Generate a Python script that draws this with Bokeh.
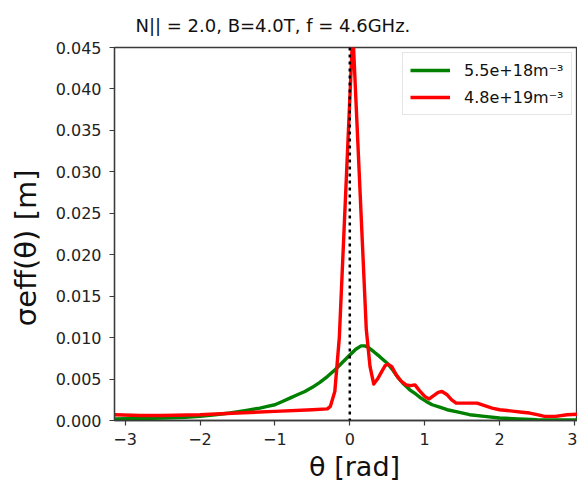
import math
from bokeh.plotting import figure
from bokeh.models import Range1d, FixedTicker, NumeralTickFormatter, Span, Legend, LegendItem
from bokeh.embed import file_html
from bokeh.resources import INLINE

# ---- data ----
theta_green = [-3.14, -2.8, -2.5, -2.2, -2.0, -1.8, -1.6, -1.4, -1.2, -1.1, -1.0, -0.9,
               -0.8, -0.7, -0.6, -0.5, -0.4, -0.3, -0.2, -0.1, 0.0, 0.08, 0.15, 0.2,
               0.25, 0.32, 0.4, 0.5, 0.58, 0.65, 0.72, 0.8, 0.88, 0.95, 1.02, 1.1, 1.2,
               1.3, 1.45, 1.6, 1.8, 2.0, 2.25, 2.5, 2.8, 3.14]
sigma_green = [0.0002, 0.00025, 0.0003, 0.0004, 0.0005, 0.0007, 0.0009, 0.0012, 0.0015,
               0.0017, 0.0019, 0.0023, 0.0027, 0.0031, 0.0035, 0.0040, 0.0046, 0.0053,
               0.0061, 0.0070, 0.0079, 0.0086, 0.0090, 0.0090, 0.0088, 0.0083, 0.0077,
               0.0069, 0.0060, 0.0051, 0.0044, 0.0037, 0.0032, 0.0027, 0.0023, 0.0019,
               0.0016, 0.0013, 0.0010, 0.0007, 0.0005, 0.0003, 0.0002, 0.0001, 0.00007,
               0.00005]

theta_red = [-3.14, -2.8, -2.5, -2.0, -1.5, -1.0, -0.5, -0.3, -0.26, -0.2, -0.14, 0.04,
             0.22, 0.27, 0.32, 0.37, 0.42, 0.47, 0.51, 0.56, 0.62, 0.68, 0.75, 0.81,
             0.87, 0.93, 1.0, 1.06, 1.12, 1.18, 1.23, 1.3, 1.36, 1.42, 1.5, 1.6, 1.7,
             1.8, 1.9, 2.0, 2.1, 2.2, 2.3, 2.4, 2.5, 2.6, 2.75, 2.9, 3.14]
sigma_red = [0.0007, 0.0006, 0.0006, 0.0007, 0.0009, 0.0011, 0.0013, 0.0014, 0.0017,
             0.0035, 0.0100, 0.047, 0.011, 0.0065, 0.0044, 0.0050, 0.0058, 0.0066,
             0.0068, 0.0065, 0.0055, 0.0048, 0.0043, 0.0042, 0.0043, 0.0036, 0.0029,
             0.0026, 0.0030, 0.0034, 0.0035, 0.0031, 0.0025, 0.0021, 0.0021, 0.0021,
             0.0021, 0.0018, 0.0015, 0.0013, 0.0012, 0.0011, 0.0010, 0.0009, 0.0007,
             0.0005, 0.0005, 0.0007, 0.0008]

series_labels = ["5.5e+18m\u207b\u00b3", "4.8e+19m\u207b\u00b3"]
x_ticks = [-3, -2, -1, 0, 1, 2, 3]
x_tick_labels = ["\u22123", "\u22122", "\u22121", "0", "1", "2", "3"]
y_ticks = [0.0, 0.005, 0.010, 0.015, 0.020, 0.025, 0.030, 0.035, 0.040, 0.045]
vline_theta = 0.0
title_text = "N|| = 2.0, B=4.0T, f = 4.6GHz."
x_label = "\u00a0\u00a0\u03b8 [rad]"
y_label = "\u03c3eff(\u03b8) [m]\u00a0\u00a0\u00a0"

FONT = "DejaVu Sans"
AX = "#3a3a3a"
TXT = "#111111"

p = figure(width=577, height=488,
           x_range=Range1d(-math.pi, 3.04), y_range=Range1d(0, 0.045),
           output_backend="svg", toolbar_location=None,
           min_border_left=114, min_border_right=0, min_border_top=44, min_border_bottom=68)

p.title.text = title_text
p.title.align = "left"
p.title.offset = 21
p.title.standoff = 24
p.title.text_font = FONT
p.title.text_font_size = "18px"
p.title.text_font_style = "normal"
p.title.text_color = TXT

p.xgrid.visible = False
p.ygrid.visible = False
p.outline_line_color = AX
p.outline_line_width = 1.3
p.background_fill_color = "white"
p.border_fill_color = "white"

for ax in (p.xaxis[0], p.yaxis[0]):
    ax.axis_line_color = AX
    ax.axis_line_width = 1.3
    ax.major_tick_line_color = AX
    ax.major_tick_line_width = 1.2
    ax.major_tick_in = 0
    ax.major_tick_out = 5
    ax.minor_tick_line_color = None
    ax.major_label_text_font = FONT
    ax.major_label_text_font_size = "16px"
    ax.major_label_text_color = "#222222"
    ax.axis_label_text_font = FONT
    ax.axis_label_text_font_style = "normal"
    ax.axis_label_text_color = TXT

p.xaxis.major_label_standoff = 7
p.yaxis.major_label_standoff = 8
p.xaxis.ticker = FixedTicker(ticks=x_ticks)
p.xaxis.major_label_overrides = {t: l for t, l in zip(x_ticks, x_tick_labels)}
p.yaxis.ticker = FixedTicker(ticks=y_ticks)
p.yaxis.formatter = NumeralTickFormatter(format="0.000")

p.xaxis.axis_label = x_label
p.xaxis.axis_label_text_font_size = "27px"
p.xaxis.axis_label_standoff = 3
p.yaxis.axis_label = y_label
p.yaxis.axis_label_text_font_size = "29px"
p.yaxis.axis_label_standoff = 10

vline = Span(location=vline_theta, dimension="height", line_color="black",
             line_dash="3 4", line_width=2.5)
p.add_layout(vline)

g = p.line(theta_green, sigma_green, line_color="green", line_width=3.4, line_join="round")
r = p.line(theta_red, sigma_red, line_color="red", line_width=3.4, line_join="round")

legend = Legend(items=[LegendItem(label=series_labels[0], renderers=[g]),
                       LegendItem(label=series_labels[1], renderers=[r])],
                location=(288, 305), margin=0, padding=7, spacing=7,
                glyph_width=40, glyph_height=20, label_height=20, label_standoff=14,
                label_text_font=FONT, label_text_font_size="16px",
                label_text_color=TXT,
                border_line_color="#cccccc", border_line_width=1.2,
                background_fill_color="white", background_fill_alpha=0.9)
p.add_layout(legend)

open("out.html", "w").write(file_html(p, INLINE))
